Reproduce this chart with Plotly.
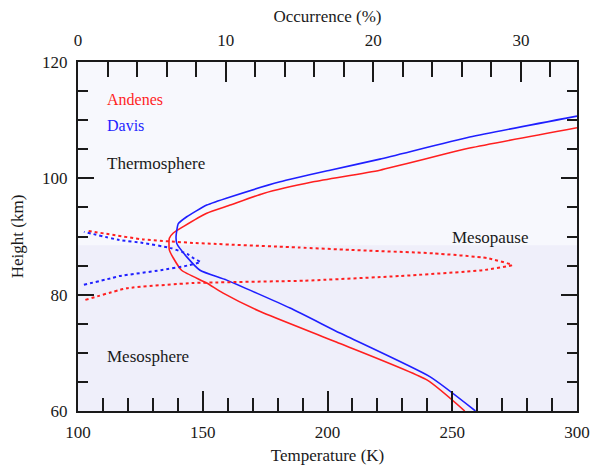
import plotly.graph_objects as go

# Temperature profiles (K) vs height (km)
andenes_T = [255, 240, 205, 173, 158, 151.6, 141.5, 138.2, 136.6, 136.6, 138.2, 142.2, 151.6, 161, 174.3, 194.3, 221, 257, 300]
andenes_H = [60, 65.3, 71.6, 77.1, 80.3, 82, 84.2, 86.3, 87.7, 89.7, 90.6, 91.7, 94, 95.4, 97.4, 99.4, 101.4, 105.2, 108.7]
davis_T = [259.3, 241, 205, 185, 159.6, 148.9, 143.6, 139.6, 139.3, 140.2, 143.6, 151.6, 161, 181, 201, 221, 257, 300]
davis_H = [60, 65.9, 73.4, 77.7, 82.5, 84.2, 86.5, 88.8, 90.0, 92.2, 93.4, 95.4, 96.8, 99.4, 101.4, 103.3, 107.1, 110.7]

# Mesopause height occurrence (%) vs height (km)
andenes_occ = [0.5, 3.3, 7.8, 15.3, 21.8, 27.4, 29.4, 27.7, 24.1, 18.4, 15.0, 7.8, 4.4, 0.6]
andenes_occ_H = [79.1, 81.1, 82.0, 82.4, 83.2, 84.2, 85.1, 86.3, 87.1, 87.7, 88.1, 88.9, 89.5, 91.0]
davis_occ = [0.4, 2.2, 2.8, 5.6, 7.4, 8.3, 7.8, 7.4, 6.3, 4.4, 2.8, 0.4]
davis_occ_H = [81.7, 82.8, 83.2, 84.2, 85.0, 85.6, 86.3, 87.0, 88.0, 88.9, 89.4, 90.8]

mesopause_H = 88.5

RED = "#ff1f1f"
BLUE = "#1f1fff"
FONT = "Liberation Serif"
INK = "#1a1a1a"

fig = go.Figure()
fig.add_trace(go.Scatter(x=andenes_T, y=andenes_H, mode="lines",
                         line=dict(color=RED, width=1.6, shape="spline", smoothing=0.5),
                         xaxis="x", yaxis="y", showlegend=False))
fig.add_trace(go.Scatter(x=davis_T, y=davis_H, mode="lines",
                         line=dict(color=BLUE, width=1.6, shape="spline", smoothing=0.5),
                         xaxis="x", yaxis="y", showlegend=False))
fig.add_trace(go.Scatter(x=andenes_occ, y=andenes_occ_H, mode="lines",
                         line=dict(color=RED, width=2, dash="dot", shape="spline", smoothing=0.4),
                         xaxis="x2", yaxis="y", showlegend=False))
fig.add_trace(go.Scatter(x=davis_occ, y=davis_occ_H, mode="lines",
                         line=dict(color=BLUE, width=2, dash="dot", shape="spline", smoothing=0.4),
                         xaxis="x2", yaxis="y", showlegend=False))

fig.add_shape(type="rect", xref="paper", yref="y", x0=0, x1=1, y0=60, y1=mesopause_H,
              fillcolor="#efeffa", line=dict(width=0), layer="below")

tickfont = dict(family=FONT, size=17, color=INK)
fig.update_layout(
    width=590, height=466,
    margin=dict(l=78, r=13, t=62, b=55),
    paper_bgcolor="white",
    plot_bgcolor="#f7f8fd",
    font=dict(family=FONT, size=17, color=INK),
    xaxis=dict(range=[100, 300], dtick=50, tick0=100, ticks="inside", ticklen=20, tickwidth=2,
               tickcolor=INK, showline=True, linecolor=INK, linewidth=2, mirror=True,
               showgrid=False, zeroline=False, tickfont=tickfont, automargin=False,
               ticklabelstandoff=5,
               minor=dict(dtick=10, ticks="inside", ticklen=13, tickwidth=2, tickcolor=INK, showgrid=False),
               title=dict(text="Temperature (K)", font=dict(family=FONT, size=17), standoff=8)),
    xaxis2=dict(range=[0, 33.8], dtick=10, tick0=0, overlaying="x", side="top", anchor="y",
                ticks="inside", ticklen=20, tickwidth=2, tickcolor=INK,
                showline=True, linecolor=INK, linewidth=2, automargin=False,
                showgrid=False, zeroline=False, tickfont=tickfont, ticklabelstandoff=7,
                minor=dict(dtick=2, ticks="inside", ticklen=15, tickwidth=2, tickcolor=INK, showgrid=False),
                title=dict(text="Occurrence (%)", font=dict(family=FONT, size=17), standoff=4)),
    yaxis=dict(range=[60, 120], dtick=20, tick0=60, ticks="inside", ticklen=16, tickwidth=2,
               tickcolor=INK, showline=True, linecolor=INK, linewidth=2, mirror="ticks",
               showgrid=False, zeroline=False, tickfont=tickfont, automargin=False,
               ticklabelstandoff=5,
               minor=dict(dtick=5, ticks="inside", ticklen=10, tickwidth=2, tickcolor=INK, showgrid=False),
               title=dict(text="Height (km)", font=dict(family=FONT, size=17), standoff=14)),
)

fig.add_annotation(x=111, y=113.6, text="Andenes", showarrow=False, xanchor="left", yanchor="middle",
                   font=dict(family=FONT, size=16, color=RED))
fig.add_annotation(x=111, y=109.0, text="Davis", showarrow=False, xanchor="left", yanchor="middle",
                   font=dict(family=FONT, size=16, color=BLUE))
fig.add_annotation(x=111, y=102.6, text="Thermosphere", showarrow=False, xanchor="left", yanchor="middle",
                   font=dict(family=FONT, size=17, color=INK))
fig.add_annotation(x=111, y=69.3, text="Mesosphere", showarrow=False, xanchor="left", yanchor="middle",
                   font=dict(family=FONT, size=17, color=INK))
fig.add_annotation(x=281, y=89.9, text="Mesopause", showarrow=False, xanchor="right", yanchor="middle",
                   font=dict(family=FONT, size=17, color=INK))

fig.write_html("out.html", config={"displayModeBar": False},
               post_script="document.body.style.margin='0';document.body.style.padding='0';")
